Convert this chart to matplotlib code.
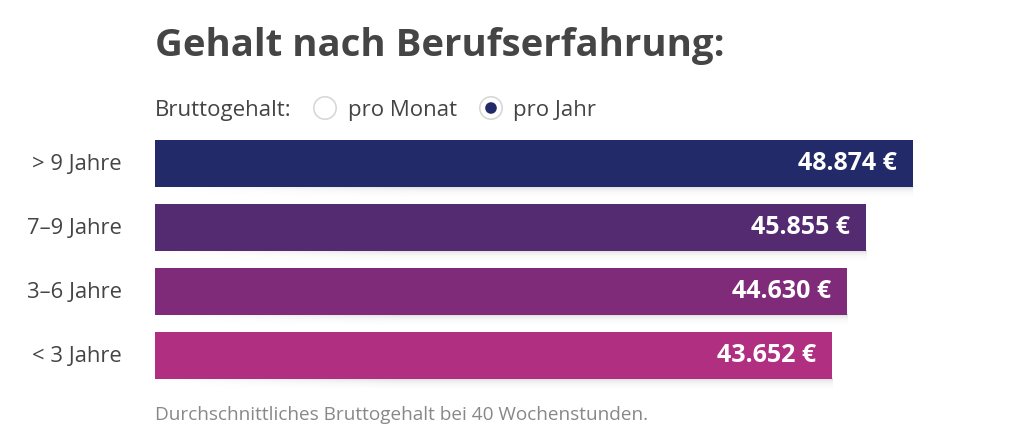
import matplotlib
matplotlib.use("Agg")
import matplotlib.pyplot as plt
from matplotlib.patches import Circle
import numpy as np

categories = ["> 9 Jahre", "7–9 Jahre", "3–6 Jahre", "< 3 Jahre"]
values = [48874, 45855, 44630, 43652]
value_labels = ["48.874 €", "45.855 €", "44.630 €", "43.652 €"]
colors = ["#232a6a", "#542a71", "#802b79", "#b02f80"]

title = "Gehalt nach Berufserfahrung:"
radio_label = "Bruttogehalt:"
radio_options = ["pro Monat", "pro Jahr"]
footnote = "Durchschnittliches Bruttogehalt bei 40 Wochenstunden."

W, H = 1024, 445
DPI = 100
plt.rcParams["font.family"] = ["Open Sans", "DejaVu Sans"]

fig = plt.figure(figsize=(W / DPI, H / DPI), dpi=DPI)
fig.patch.set_facecolor("white")

def fx(x):
    return x / W

def fy(y):
    return 1 - y / H

# bar axes (pixel layout)
ax_left, ax_right = 155, 1000
ax_top, ax_bot = 131.5, 387.5
ax = fig.add_axes([fx(ax_left), fy(ax_bot), (ax_right - ax_left) / W, (ax_bot - ax_top) / H])
xmax = values[0] * (ax_right - ax_left) / 758.0
bar_h = 47 / 64
ypos = list(range(len(values)))

# soft shadows under bars (gradient image)
nx, ny = 200, 20
gx = np.clip(np.linspace(0, 1, nx) / 0.35, 0, 1)
gy = np.exp(-np.linspace(0, 3, ny))
alpha = 0.16 * np.outer(gy, gx)
for i, v in enumerate(values):
    img = np.zeros((ny, nx, 4))
    img[..., 3] = alpha
    ax.imshow(img, extent=(0, v, i + bar_h / 2 + 10 / 64, i + bar_h / 2 - 0.5 / 64),
              aspect="auto", interpolation="bilinear", zorder=1)

ax.barh(ypos, values, height=bar_h, color=colors, zorder=2)
ax.set_xlim(0, xmax)
ax.set_ylim(len(values) - 0.5, -0.5)
ax.axis("off")

px_per_unit = (ax_right - ax_left) / xmax
for i, (v, lab) in enumerate(zip(values, value_labels)):
    ax.text(v - 16 / px_per_unit, i, lab, ha="right", va="center", color="white",
            fontsize=18, fontweight="bold", zorder=3)
    fig.text(fx(122), fy(164.5 + 64 * i), categories[i], ha="right", va="center",
             color="#444444", fontsize=15.8)

# title
fig.text(fx(155), fy(56), title, ha="left", va="baseline", color="#454545",
         fontsize=27.6, fontweight="bold")

# radio row
fig.text(fx(155), fy(116), radio_label, ha="left", va="baseline", color="#444444", fontsize=16)
circ_ax = fig.add_axes([0, 0, 1, 1], facecolor="none")
circ_ax.set_xlim(0, W)
circ_ax.set_ylim(H, 0)
circ_ax.axis("off")
circ_ax.add_patch(Circle((325, 108), 11.2, facecolor="white", edgecolor="#d8d8d8", linewidth=1.2))
circ_ax.add_patch(Circle((491, 108), 11.2, facecolor="white", edgecolor="#d8d8d8", linewidth=1.2))
circ_ax.add_patch(Circle((491, 108), 5.8, facecolor="#232a6a", edgecolor="none"))
fig.text(fx(348), fy(116), radio_options[0], ha="left", va="baseline", color="#444444", fontsize=16)
fig.text(fx(513), fy(116), radio_options[1], ha="left", va="baseline", color="#444444", fontsize=16)

# footnote
fig.text(fx(155), fy(420), footnote, ha="left", va="baseline", color="#888888", fontsize=13.7)

fig.savefig("out.png", dpi=DPI, facecolor="white")
